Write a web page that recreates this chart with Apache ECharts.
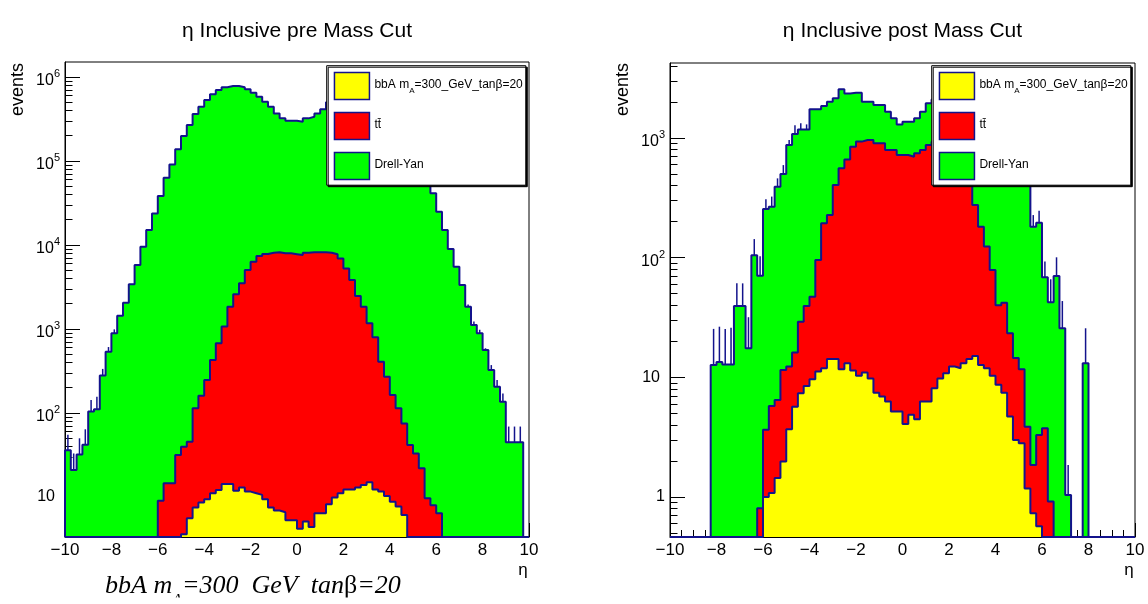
<!DOCTYPE html>
<html>
<head>
<meta charset="utf-8">
<script src="https://cdn.jsdelivr.net/npm/echarts@6/dist/echarts.min.js"></script>
<style>
  html, body { margin: 0; padding: 0; background: #fff; }
  #chart { width: 1148px; height: 604px; }
</style>
</head>
<body>
<div id="chart"></div>
<script>
// η histograms: 80 bins of width 0.25 between −10 and 10.
const ETA_MIN = -10, ETA_MAX = 10, BIN_WIDTH = 0.25;

// ---- Before the mass cut: stacked heights per bin (events) ----
// Drell-Yan stacked on top of tt̄ and bbA
const preStackDrellYan = [
  36, 21, 32, 42, 104, 111, 280, 537, 890, 1440,
  2060, 3400, 5780, 9550, 15100, 23800, 38300, 63300, 91000, 138000,
  199000, 268000, 363000, 443000, 532000, 622000, 700000, 754000, 782000, 782000,
  754000, 713000, 650000, 583000, 508000, 443000, 369000, 322000, 302000, 302000,
  294000, 322000, 337000, 369000, 412000, 500000, 575000, 650000, 715000, 760000,
  790000, 775000, 745000, 690000, 615000, 530000, 445000, 360000, 270000, 198000,
  140000, 93000, 62000, 41200, 24900, 15100, 8950, 5520, 3340, 1840,
  1120, 890, 562, 325, 206, 136, 45, 45, 45, 0
];
// tt̄ stacked on top of bbA
const preStackTtbar = [
  0, 0, 0, 0, 0, 0, 0, 0, 0, 0,
  0, 0, 0, 0, 0, 0, 9.0, 14.6, 14.6, 31.6,
  39.7, 45.5, 114, 161, 247, 428, 676, 1070, 1840, 2590,
  3500, 5040, 6320, 7390, 7810, 8100, 8180, 7960, 7960, 7780,
  7600, 8100, 8180, 8180, 8180, 8100, 7780, 6930, 5270, 3830,
  2470, 1840, 1170, 800, 408, 270, 164, 114, 75, 41.6,
  33, 22, 9.7, 8.0, 6.4, 0, 0, 0, 0, 0,
  0, 0, 0, 0, 0, 0, 0, 0, 0, 0
];
// bbA signal, mA = 300 GeV, tanβ = 20
const preBbA = [
  0, 0, 0, 0, 0, 0, 0, 0, 0, 0,
  0, 0, 0, 0, 0, 0, 0, 0, 0, 0,
  3.6, 5.6, 7.5, 8.6, 9.4, 11.1, 12.1, 14.3, 14.3, 11.9,
  13.0, 11.6, 11.1, 10.6, 9.4, 7.5, 6.9, 6.6, 5.3, 5.3,
  4.2, 5.1, 4.4, 6.4, 6.4, 8.2, 9.9, 11.1, 12.3, 12.3,
  13.0, 13.9, 15.0, 12.3, 11.6, 10.3, 8.8, 7.7, 6.1, 0,
  0, 0, 0, 0, 0, 0, 0, 0, 0, 0,
  0, 0, 0, 0, 0, 0, 0, 0, 0, 0
];
// upper ends of the statistical error bars on the top of the stack
const preErrBins = [0, 1, 2, 3, 4, 5, 6, 7, 8, 69, 70, 71, 72, 73, 74, 75, 76, 77, 78];
const preErrTop  = [55, 33, 50, 64, 143, 156, 335, 610, 990, 1960, 1230, 980, 590, 372, 247, 171, 69, 69, 69];

// ---- After the mass cut ----
const postStackDrellYan = [
  0, 0, 0, 0, 0, 0, 0, 12.7, 13.4, 12.8,
  12.8, 39.4, 39.4, 17.5, 105, 70.7, 255, 267, 392, 500,
  875, 1080, 1180, 1180, 1740, 1740, 1850, 2010, 2150, 2550,
  2360, 2390, 2390, 2010, 2010, 1890, 1890, 1660, 1460, 1300,
  1370, 1370, 1460, 1660, 1950, 2100, 2250, 2350, 2400, 2300,
  2200, 2000, 1800, 1550, 1300, 1100, 900, 760, 650, 580,
  520, 470, 181, 196, 68.6, 42.4, 70.3, 25.7, 1.04, 0,
  0, 13.1, 0, 0, 0, 0, 0, 0, 0, 0
];
const postStackTtbar = [
  0, 0, 0, 0, 0, 0, 0, 0, 0, 0,
  0, 0, 0, 0, 0, 0.805, 3.64, 5.77, 6.47, 11.5,
  12.3, 16.1, 29.2, 39.4, 47.2, 95.7, 194, 227, 405, 558,
  663, 846, 933, 962, 962, 903, 903, 794, 794, 722,
  722, 698, 745, 794, 875, 930, 960, 980, 950, 880,
  760, 560, 275, 181, 124, 78.8, 40, 42, 23.3, 14.5,
  11.7, 3.87, 1.85, 3.3, 3.76, 0.916, 0, 0, 0, 0,
  0, 0, 0, 0, 0, 0, 0, 0, 0, 0
];
const postBbA = [
  0, 0, 0, 0, 0, 0, 0, 0, 0, 0,
  0, 0, 0, 0, 0, 0, 1.0, 1.08, 1.44, 1.98,
  3.68, 5.69, 7.36, 8.47, 9.63, 11.2, 11.9, 14.2, 14.2, 11.7,
  13.1, 11.4, 10.3, 11.0, 9.8, 7.45, 6.9, 6.27, 5.17, 5.17,
  4.08, 4.86, 4.47, 6.27, 6.27, 8.1, 9.8, 10.8, 12.3, 11.9,
  13.1, 14.2, 15.1, 12.7, 11.9, 10.3, 8.65, 7.45, 4.7, 3.0,
  2.81, 1.18, 0.73, 0.57, 0, 0, 0, 0, 0, 0,
  0, 0, 0, 0, 0, 0, 0, 0, 0, 0
];
const postErrBins = [7, 8, 9, 10, 11, 12, 13, 14, 15, 16, 17, 18, 19, 20, 21, 22, 23, 62, 63, 64, 65, 66, 67, 68, 71];
const postErrTop  = [25.4, 26.5, 25.3, 26, 61, 61, 31.8, 143, 103, 308, 324, 460, 594, 962, 1280, 1330, 1300,
                     227, 247, 92.7, 66, 100.7, 43.4, 1.85, 25.7];

// Axis ranges and decade labels
const preRange  = [3.342, 1.509e6];
const postRange = [0.463, 4236];
const preDecades  = [10, 100, 1000, 10000, 100000, 1000000];
const postDecades = [1, 10, 100, 1000];

// Legend entries
const legendNames = ['bbA', 'tt\u0304', 'Drell-Yan'];

// ---- styling ----
const SANS = '"Liberation Sans", Arial, Helvetica, sans-serif';
const SERIF = '"Liberation Serif", "Times New Roman", serif';
const OUTLINE = '#13138c';
const FILL = { 'bbA': '#ffff00', 'tt\u0304': '#ff0000', 'Drell-Yan': '#00ff00' };

const gridPre  = { left: 65,  top: 62, width: 464, height: 475 };
const gridPost = { left: 670, top: 63, width: 465, height: 474 };

function binLow(i) { return ETA_MIN + i * BIN_WIDTH; }

// Step outline of a histogram; empty bins sit on the axis floor.
function histPath(values, floor) {
  const pts = [[ETA_MIN, floor]];
  values.forEach((v, i) => pts.push([binLow(i), v > 0 ? v : floor]));
  pts.push([ETA_MAX, floor]);
  return pts;
}

function minorTicks(range) {
  const out = [];
  const lo = Math.floor(Math.log10(range[0])), hi = Math.ceil(Math.log10(range[1]));
  for (let d = lo; d <= hi; d++) {
    for (let m = 2; m <= 9; m++) {
      const v = m * Math.pow(10, d);
      if (v >= range[0] && v <= range[1]) out.push(v);
    }
  }
  return out;
}

function decadeLabel(v) {
  const e = Math.round(Math.log10(v));
  if (e === 0) return '{p|1}';
  if (e === 1) return '{q|10}';
  return '{b|10}{s|' + e + '}';
}

const yLabelRich = {
  b: { fontFamily: SANS, fontSize: 16, color: '#000', lineHeight: 17, padding: [4, 0, 0, 0], verticalAlign: 'top' },
  s: { fontFamily: SANS, fontSize: 11, color: '#000', lineHeight: 11, verticalAlign: 'top' },
  p: { fontFamily: SANS, fontSize: 16, color: '#000' },
  q: { fontFamily: SANS, fontSize: 16, color: '#000', padding: [0, 5, 0, 0] }
};

function xAxisFor(gridIndex, visible) {
  return {
    type: 'value', gridIndex, min: ETA_MIN, max: ETA_MAX, interval: 2, show: visible, position: 'bottom',
    axisLine: { show: true, onZero: false, lineStyle: { color: '#000', width: 1 } },
    axisTick: { show: true, inside: true, length: 14, lineStyle: { color: '#000' } },
    minorTick: { show: true, splitNumber: 4, length: 7, lineStyle: { color: '#000' } },
    splitLine: { show: false }, minorSplitLine: { show: false },
    axisLabel: {
      show: true, margin: 5, fontFamily: SANS, fontSize: 17, color: '#000',
      showMinLabel: true, showMaxLabel: true, hideOverlap: false,
      formatter: v => (v < 0 ? '\u2212' : '') + Math.abs(v)
    }
  };
}

function yMajorAxis(gridIndex, range, decades) {
  return {
    type: 'log', logBase: 10, gridIndex, min: range[0], max: range[1], position: 'left',
    axisLine: { show: true, onZero: false, lineStyle: { color: '#000', width: 1 } },
    axisTick: { show: true, inside: true, length: 15, customValues: decades, lineStyle: { color: '#000' } },
    minorTick: { show: false }, splitLine: { show: false },
    axisLabel: { show: true, customValues: decades, formatter: decadeLabel, rich: yLabelRich,
                 align: 'right', margin: 5, fontFamily: SANS, fontSize: 16, color: '#000' }
  };
}

function yMinorAxis(gridIndex, range) {
  return {
    type: 'log', logBase: 10, gridIndex, min: range[0], max: range[1], position: 'left',
    axisLine: { show: false, onZero: false }, axisLabel: { show: false }, splitLine: { show: false },
    axisTick: { show: true, inside: true, length: 7.5, customValues: minorTicks(range), lineStyle: { color: '#000' } }
  };
}

function histSeries(name, values, floor, axisIndex) {
  return {
    type: 'line', name, xAxisIndex: axisIndex, yAxisIndex: axisIndex,
    step: 'end', symbol: 'none', showSymbol: false, clip: true, silent: true,
    data: histPath(values, floor),
    lineStyle: { color: OUTLINE, width: 2 },
    itemStyle: { color: FILL[name] },
    areaStyle: { color: FILL[name], opacity: 1, origin: 'start' }
  };
}

function errorSeries(bins, tops, stack, axisIndex) {
  return {
    type: 'custom', xAxisIndex: axisIndex, yAxisIndex: axisIndex, clip: true, silent: true,
    data: bins.map((k, j) => [binLow(k) + BIN_WIDTH / 2, stack[k], tops[j]]),
    encode: { x: 0, y: [1, 2] },
    renderItem: (params, api) => {
      const p0 = api.coord([api.value(0), api.value(1)]);
      const p1 = api.coord([api.value(0), api.value(2)]);
      return { type: 'line', shape: { x1: p0[0], y1: p0[1], x2: p1[0], y2: p1[1] },
               style: { stroke: OUTLINE, lineWidth: 1.5 } };
    }
  };
}

function legendAt(left) {
  return {
    left, top: 65.7, orient: 'vertical', selectedMode: false,
    padding: [6, 3, 5, 7], itemGap: 11.5, itemWidth: 35, itemHeight: 27,
    backgroundColor: '#fff', borderColor: '#000', borderWidth: 1, borderRadius: 0,
    shadowColor: '#000', shadowBlur: 0, shadowOffsetX: 1.5, shadowOffsetY: 1.5,
    data: legendNames.map(n => ({ name: n, icon: 'rect',
      itemStyle: { color: FILL[n], borderColor: OUTLINE, borderWidth: 1.5 } })),
    formatter: n => n === 'bbA' ? '{t|bbA m}{sub|A}{t|=300_GeV_tan\u03b2=20}' : '{t|' + n + '}',
    textStyle: {
      fontFamily: SANS, fontSize: 12, color: '#000',
      rich: {
        t: { fontFamily: SANS, fontSize: 12, color: '#000', lineHeight: 14, verticalAlign: 'top' },
        sub: { fontFamily: SANS, fontSize: 8, color: '#000', lineHeight: 8, padding: [8, 0, 0, 0], verticalAlign: 'top' }
      }
    }
  };
}

function plainText(x, y, text, size, extra) {
  return Object.assign({ type: 'text', x, y, silent: true,
    style: { text, fontFamily: SANS, fontSize: size, fill: '#000', align: 'center', verticalAlign: 'middle' } }, extra || {});
}

const option = {
  animation: false,
  backgroundColor: '#fff',
  grid: [
    Object.assign({ show: true, borderColor: '#000', borderWidth: 1, backgroundColor: 'transparent' }, gridPre),
    Object.assign({ show: true, borderColor: '#000', borderWidth: 1, backgroundColor: 'transparent' }, gridPost),
    Object.assign({ show: false }, gridPre),
    Object.assign({ show: false }, gridPost)
  ],
  xAxis: [xAxisFor(0, true), xAxisFor(1, true), xAxisFor(2, false), xAxisFor(3, false)],
  yAxis: [
    yMajorAxis(0, preRange, preDecades),
    yMajorAxis(1, postRange, postDecades),
    yMinorAxis(2, preRange),
    yMinorAxis(3, postRange)
  ],
  legend: [legendAt(326.7), legendAt(931.7)],
  series: [
    errorSeries(preErrBins, preErrTop, preStackDrellYan, 0),
    histSeries('Drell-Yan', preStackDrellYan, preRange[0], 0),
    histSeries('tt\u0304', preStackTtbar, preRange[0], 0),
    histSeries('bbA', preBbA, preRange[0], 0),
    errorSeries(postErrBins, postErrTop, postStackDrellYan, 1),
    histSeries('Drell-Yan', postStackDrellYan, postRange[0], 1),
    histSeries('tt\u0304', postStackTtbar, postRange[0], 1),
    histSeries('bbA', postBbA, postRange[0], 1)
  ],
  graphic: [
    plainText(297, 31, '\u03b7 Inclusive pre Mass Cut', 21),
    plainText(902.5, 31, '\u03b7 Inclusive post Mass Cut', 21),
    plainText(18, 63, 'events', 18, { rotation: Math.PI / 2,
      style: { text: 'events', fontFamily: SANS, fontSize: 18, fill: '#000', align: 'right', verticalAlign: 'middle' } }),
    plainText(623, 63, 'events', 18, { rotation: Math.PI / 2,
      style: { text: 'events', fontFamily: SANS, fontSize: 18, fill: '#000', align: 'right', verticalAlign: 'middle' } }),
    plainText(523, 570, '\u03b7', 17),
    plainText(1129, 570, '\u03b7', 17),
    {
      type: 'text', x: 105, y: 588, silent: true,
      style: {
        text: '{i|bbA m}{sub|A}{i|=300  GeV  tan}{g|\u03b2}{i|=20}',
        align: 'left', verticalAlign: 'middle',
        rich: {
          i: { fontFamily: SERIF, fontStyle: 'italic', fontSize: 26, fill: '#000', lineHeight: 30, verticalAlign: 'top' },
          g: { fontFamily: SERIF, fontStyle: 'normal', fontSize: 26, fill: '#000', lineHeight: 30, verticalAlign: 'top' },
          sub: { fontFamily: SERIF, fontStyle: 'italic', fontSize: 16, fill: '#000', lineHeight: 16, padding: [20, 0, 0, 0], verticalAlign: 'top' }
        }
      }
    },
    { type: 'rect', silent: true, z: 200, shape: { x: 95, y: 597.5, width: 340, height: 8 }, style: { fill: '#fff' } }
  ]
};

const chart = echarts.init(document.getElementById('chart'), null, { renderer: 'canvas' });
chart.setOption(option);
</script>
</body>
</html>
